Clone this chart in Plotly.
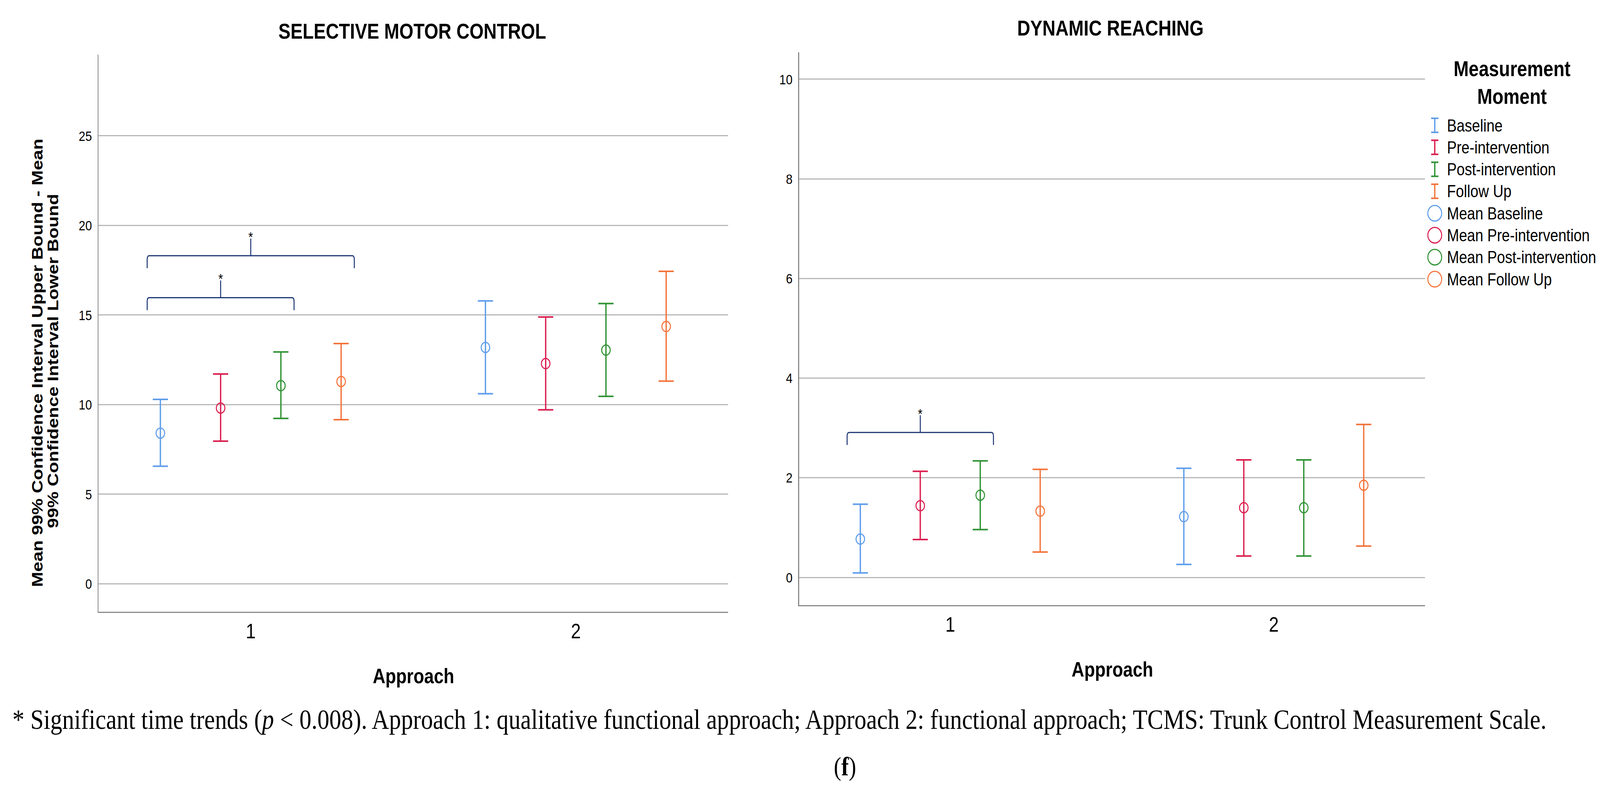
import plotly.graph_objects as go

W, H = 4851, 2021

# ---------------- data ----------------
approaches = [1, 2]
moments = ["Baseline", "Pre-intervention", "Post-intervention", "Follow Up"]
colors = ["#5E9DEB", "#DB1E4F", "#2F9233", "#F4733A"]

# Selective motor control: per measurement moment, values for approach 1 and 2
smc_mean = [[8.41, 13.19], [9.81, 12.29], [11.06, 13.04], [11.29, 14.36]]
smc_lower = [[6.56, 10.61], [7.96, 9.71], [9.23, 10.46], [9.16, 11.31]]
smc_upper = [[10.29, 15.79], [11.71, 14.89], [12.94, 15.64], [13.41, 17.44]]

# Dynamic reaching
dr_mean = [[0.77, 1.22], [1.44, 1.40], [1.65, 1.40], [1.33, 1.85]]
dr_lower = [[0.09, 0.26], [0.76, 0.43], [0.96, 0.43], [0.51, 0.63]]
dr_upper = [[1.47, 2.19], [2.13, 2.36], [2.34, 2.36], [2.17, 3.07]]

smc_ticks = [0, 5, 10, 15, 20, 25]
dr_ticks = [0, 2, 4, 6, 8, 10]

# significance brackets: (approach, first moment idx, last moment idx, level)
smc_brackets = [(1, 0, 3, 18.31), (1, 0, 2, 15.97)]
dr_brackets = [(1, 0, 2, 2.91)]

titles = ["SELECTIVE MOTOR CONTROL", "DYNAMIC REACHING"]
caption = ("* Significant time trends (<i>p</i> &lt; 0.008). Approach 1: qualitative functional approach; "
           "Approach 2: functional approach; TCMS: Trunk Control Measurement Scale.")

# ---------------- layout geometry ----------------
offsets = [-0.278, -0.0927, 0.0927, 0.278]
SANS = "Liberation Sans, Arial, sans-serif"
SERIF = "Liberation Serif, Times New Roman, serif"

panels = [
    dict(xd=(299 / W, 2208 / W), yd=(1 - 1567 / H, 1 - 140 / H), xr=(0.532, 2.469), yr=(-1.56, 29.53),
         mean=smc_mean, lo=smc_lower, hi=smc_upper, ticks=smc_ticks, br=smc_brackets,
         tx=1250, ty=80, axy=1731),
    dict(xd=(2423 / W, 4321 / W), yd=(1 - 1550 / H, 1 - 134 / H), xr=(0.533, 2.468), yr=(-0.556, 10.54),
         mean=dr_mean, lo=dr_lower, hi=dr_upper, ticks=dr_ticks, br=dr_brackets,
         tx=3366, ty=72, axy=1714),
]

fig = go.Figure()
shapes = []
annotations = []
BR_COLOR = "#1c3774"

for p_i, p in enumerate(panels):
    xa = "x" if p_i == 0 else "x2"
    ya = "y" if p_i == 0 else "y2"
    for m_i, name in enumerate(moments):
        xs = [a + offsets[m_i] for a in approaches]
        ys = p["mean"][m_i]
        up = [h - m for h, m in zip(p["hi"][m_i], ys)]
        dn = [m - l for m, l in zip(ys, p["lo"][m_i])]
        fig.add_trace(go.Scatter(
            x=xs, y=ys, mode="markers", name=name, showlegend=False,
            xaxis=xa, yaxis=ya,
            marker=dict(symbol="circle-open", size=26, color=colors[m_i], line=dict(width=3, color=colors[m_i])),
            error_y=dict(type="data", symmetric=False, array=up, arrayminus=dn,
                         color=colors[m_i], thickness=4, width=23),
        ))
    # unit conversions px -> data
    pxu_x = W * (p["xd"][1] - p["xd"][0]) / (p["xr"][1] - p["xr"][0])
    pxu_y = H * (p["yd"][1] - p["yd"][0]) / (p["yr"][1] - p["yr"][0])
    for (a, s0, s1, lvl) in p["br"]:
        pad = 40 / pxu_x
        x0 = a + offsets[s0] - pad
        x1 = a + offsets[s1] + pad
        xc = (x0 + x1) / 2
        drop = 32 / pxu_y
        tick = 44 / pxu_y
        cx = 6 / pxu_x
        cy = 10 / pxu_y
        y = lvl
        ye = lvl - drop
        path = (f"M {x0},{ye} L {x0},{y - cy} Q {x0},{y} {x0 + cx},{y} "
                f"L {x1 - cx},{y} Q {x1},{y} {x1},{y - cy} L {x1},{ye}")
        shapes.append(dict(type="path", path=path, xref=xa, yref=ya,
                           line=dict(color=BR_COLOR, width=3)))
        shapes.append(dict(type="line", x0=xc, x1=xc, y0=y, y1=y + tick, xref=xa, yref=ya,
                           line=dict(color=BR_COLOR, width=3)))
        annotations.append(dict(x=xc, y=y + tick, xref=xa, yref=ya, text="*", showarrow=False,
                                yanchor="bottom", yshift=-18, font=dict(family=SANS, size=36, color="black")))
    # panel title
    annotations.append(dict(x=p["tx"] / W, y=1 - p["ty"] / H, xref="paper", yref="paper",
                            text=f"<b>{titles[p_i]}</b>", showarrow=False, xanchor="center", yanchor="middle",
                            font=dict(family=SANS, size=55, color="black")))
    # x axis title
    xc_px = W * (p["xd"][0] + p["xd"][1]) / 2
    annotations.append(dict(x=xc_px / W, y=1 - p["axy"] / H, xref="paper", yref="paper",
                            text="<b>Approach</b>", showarrow=False, xanchor="center", yanchor="middle",
                            font=dict(family=SANS, size=53, color="black")))

# y axis title (left panel), two lines
annotations.append(dict(x=113 / W, y=1 - 930 / H, xref="paper", yref="paper", textangle=-90,
                        text="<b>Mean 99% Confidence Interval Upper Bound - Mean</b>", showarrow=False,
                        xanchor="center", yanchor="middle", font=dict(family=SANS, size=47, color="black")))
annotations.append(dict(x=160 / W, y=1 - 925 / H, xref="paper", yref="paper", textangle=-90,
                        text="<b>99% Confidence Interval Lower Bound</b>", showarrow=False,
                        xanchor="center", yanchor="middle", font=dict(family=SANS, size=47, color="black")))

# legend (drawn manually)
annotations.append(dict(x=4584 / W, y=1 - 212 / H, xref="paper", yref="paper",
                        text="<b>Measurement<br>Moment</b>", showarrow=False, xanchor="center", yanchor="middle",
                        align="center", font=dict(family=SANS, size=55, color="black")))
legend_labels = moments + ["Mean " + m for m in moments]
for k, lab in enumerate(legend_labels):
    cy_px = 321 + 56.3 * k
    c = colors[k % 4]
    annotations.append(dict(x=4385 / W, y=1 - cy_px / H, xref="paper", yref="paper", text=lab,
                            showarrow=False, xanchor="left", yanchor="middle",
                            font=dict(family=SANS, size=44, color="black")))
    if k < 4:
        t, b = cy_px - 18, cy_px + 18
        for seg in [(4350, t, 4350, b), (4339, t, 4361, t), (4339, b, 4361, b)]:
            shapes.append(dict(type="line", xref="paper", yref="paper",
                               x0=seg[0] / W, y0=1 - seg[1] / H, x1=seg[2] / W, y1=1 - seg[3] / H,
                               line=dict(color=c, width=4)))
    else:
        shapes.append(dict(type="circle", xref="paper", yref="paper",
                           x0=(4350 - 21) / W, x1=(4350 + 21) / W,
                           y0=1 - (cy_px + 20) / H, y1=1 - (cy_px - 20) / H,
                           line=dict(color=c, width=3)))

# caption
annotations.append(dict(x=35 / W, y=1 - 1842 / H, xref="paper", yref="paper", text=caption,
                        showarrow=False, xanchor="left", yanchor="middle",
                        font=dict(family=SERIF, size=72.5, color="black")))
annotations.append(dict(x=2562 / W, y=1 - 1963 / H, xref="paper", yref="paper", text="(<b>f</b>)",
                        showarrow=False, xanchor="center", yanchor="middle",
                        font=dict(family=SERIF, size=68, color="black")))

axis_common = dict(showline=True, linecolor="#8a8a8a", linewidth=3, zeroline=False, mirror=False)

fig.update_layout(
    width=W, height=H, margin=dict(l=0, r=0, t=0, b=0),
    paper_bgcolor="white", plot_bgcolor="white", showlegend=False,
    shapes=shapes, annotations=annotations,
    xaxis=dict(domain=list(panels[0]["xd"]), range=list(panels[0]["xr"]), anchor="y",
               tickvals=approaches, ticktext=[str(a) for a in approaches], showgrid=False,
               ticks="", tickfont=dict(family=SANS, size=54, color="black"), **axis_common),
    yaxis=dict(domain=list(panels[0]["yd"]), range=list(panels[0]["yr"]), anchor="x",
               tickvals=smc_ticks, showgrid=True, gridcolor="#b8b8b8", gridwidth=3,
               ticks="outside", ticklen=10, tickcolor="rgba(0,0,0,0)",
               tickfont=dict(family=SANS, size=36, color="black"), **axis_common),
    xaxis2=dict(domain=list(panels[1]["xd"]), range=list(panels[1]["xr"]), anchor="y2",
                tickvals=approaches, ticktext=[str(a) for a in approaches], showgrid=False,
                ticks="", tickfont=dict(family=SANS, size=54, color="black"), **axis_common),
    yaxis2=dict(domain=list(panels[1]["yd"]), range=list(panels[1]["yr"]), anchor="x2",
                tickvals=dr_ticks, showgrid=True, gridcolor="#b8b8b8", gridwidth=3,
                ticks="outside", ticklen=10, tickcolor="rgba(0,0,0,0)",
                tickfont=dict(family=SANS, size=36, color="black"), **axis_common),
)

# The browser viewport may be narrower than the requested 4851 px (it is clamped);
# stretch the fixed-size figure so that it fills the whole viewport exactly.
fit_js = """
var gd = document.getElementById('{plot_id}');
var vw = window.innerWidth, vh = window.innerHeight;
var sx = vw / %d, sy = vh / %d;
[document.documentElement, document.body].forEach(function (el) {
  el.style.margin = '0'; el.style.padding = '0'; el.style.overflow = 'hidden';
});
var wrap = gd.parentElement;
wrap.style.width = vw + 'px';
wrap.style.height = vh + 'px';
wrap.style.overflow = 'hidden';
gd.style.transformOrigin = '0 0';
gd.style.transform = 'scale(' + sx + ',' + sy + ')';
""" % (W, H)

fig.write_html("out.html", post_script=fit_js, config={"displayModeBar": False})
